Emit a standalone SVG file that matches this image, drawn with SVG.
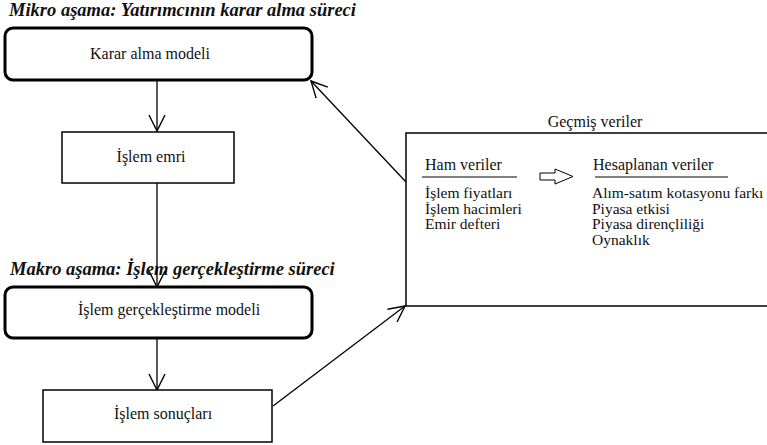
<svg xmlns="http://www.w3.org/2000/svg" width="767" height="445" viewBox="0 0 767 445">
<style>
text{font-family:"Liberation Serif","Times New Roman",serif;fill:#111;}
.t{font-size:16px;}
.s{font-size:15.5px;}
.h{font-size:18.5px;font-weight:bold;font-style:italic;}
.thick{fill:#fff;stroke:#000;stroke-width:3;}
.thin{fill:#fff;stroke:#000;stroke-width:1.5;}
.c{fill:none;stroke:#000;stroke-width:1.3;}
</style>
<defs>
<marker id="arr" viewBox="-17 -9 18 18" refX="0" refY="0" markerWidth="18" markerHeight="18" markerUnits="userSpaceOnUse" orient="auto">
<path d="M-16,-8 L0,0 L-16,8" fill="none" stroke="#000" stroke-width="1.4"/>
</marker>
</defs>
<text class="h" x="9" y="16">Mikro aşama: Yatırımcının karar alma süreci</text>
<text class="h" x="10" y="275">Makro aşama: İşlem gerçekleştirme süreci</text>
<g id="connectors">
<line class="c" x1="157" y1="80" x2="157" y2="131" marker-end="url(#arr)"/>
<line class="c" x1="157" y1="183" x2="157" y2="287" marker-end="url(#arr)"/>
<line class="c" x1="157" y1="339" x2="157" y2="390" marker-end="url(#arr)"/>
<line class="c" x1="406" y1="182" x2="311" y2="81" marker-end="url(#arr)"/>
<line class="c" x1="273" y1="406" x2="405" y2="306" marker-end="url(#arr)"/>
</g>
<g id="karar">
<rect class="thick" x="5" y="28" width="307" height="52" rx="8"/>
<text class="t" x="150" y="59" text-anchor="middle">Karar alma modeli</text>
</g>
<g id="emri">
<rect class="thin" x="62" y="132" width="172" height="51"/>
<text class="t" x="151" y="162" text-anchor="middle">İşlem emri</text>
</g>
<g id="gerceklestirme">
<rect class="thick" x="5" y="287" width="307" height="51" rx="8"/>
<text class="t" x="169" y="315" text-anchor="middle">İşlem gerçekleştirme modeli</text>
</g>
<g id="sonuclari">
<rect class="thin" x="43" y="390" width="229" height="52"/>
<text class="t" x="163" y="419" text-anchor="middle">İşlem sonuçları</text>
</g>
<g id="gecmis">
<text class="t" x="595" y="127" text-anchor="middle">Geçmiş veriler</text>
<rect class="thin" x="406" y="133" width="400" height="173"/>
<text class="t" x="425" y="170">Ham veriler</text>
<line x1="422" y1="177" x2="517" y2="177" stroke="#000" stroke-width="1"/>
<path d="M540,173 L555,173 L555,169 L573,176.5 L555,184 L555,180 L540,180 Z" fill="#fff" stroke="#000" stroke-width="1"/>
<text class="t" x="593" y="170">Hesaplanan veriler</text>
<line x1="595" y1="177" x2="728" y2="177" stroke="#000" stroke-width="1"/>
<text class="s" x="425" y="198">İşlem fiyatları</text>
<text class="s" x="425" y="213.5">İşlem hacimleri</text>
<text class="s" x="425" y="229">Emir defteri</text>
<text class="s" x="592" y="198">Alım-satım kotasyonu farkı</text>
<text class="s" x="592" y="213.5">Piyasa etkisi</text>
<text class="s" x="592" y="229">Piyasa dirençliliği</text>
<text class="s" x="592" y="244.5">Oynaklık</text>
</g>
</svg>
